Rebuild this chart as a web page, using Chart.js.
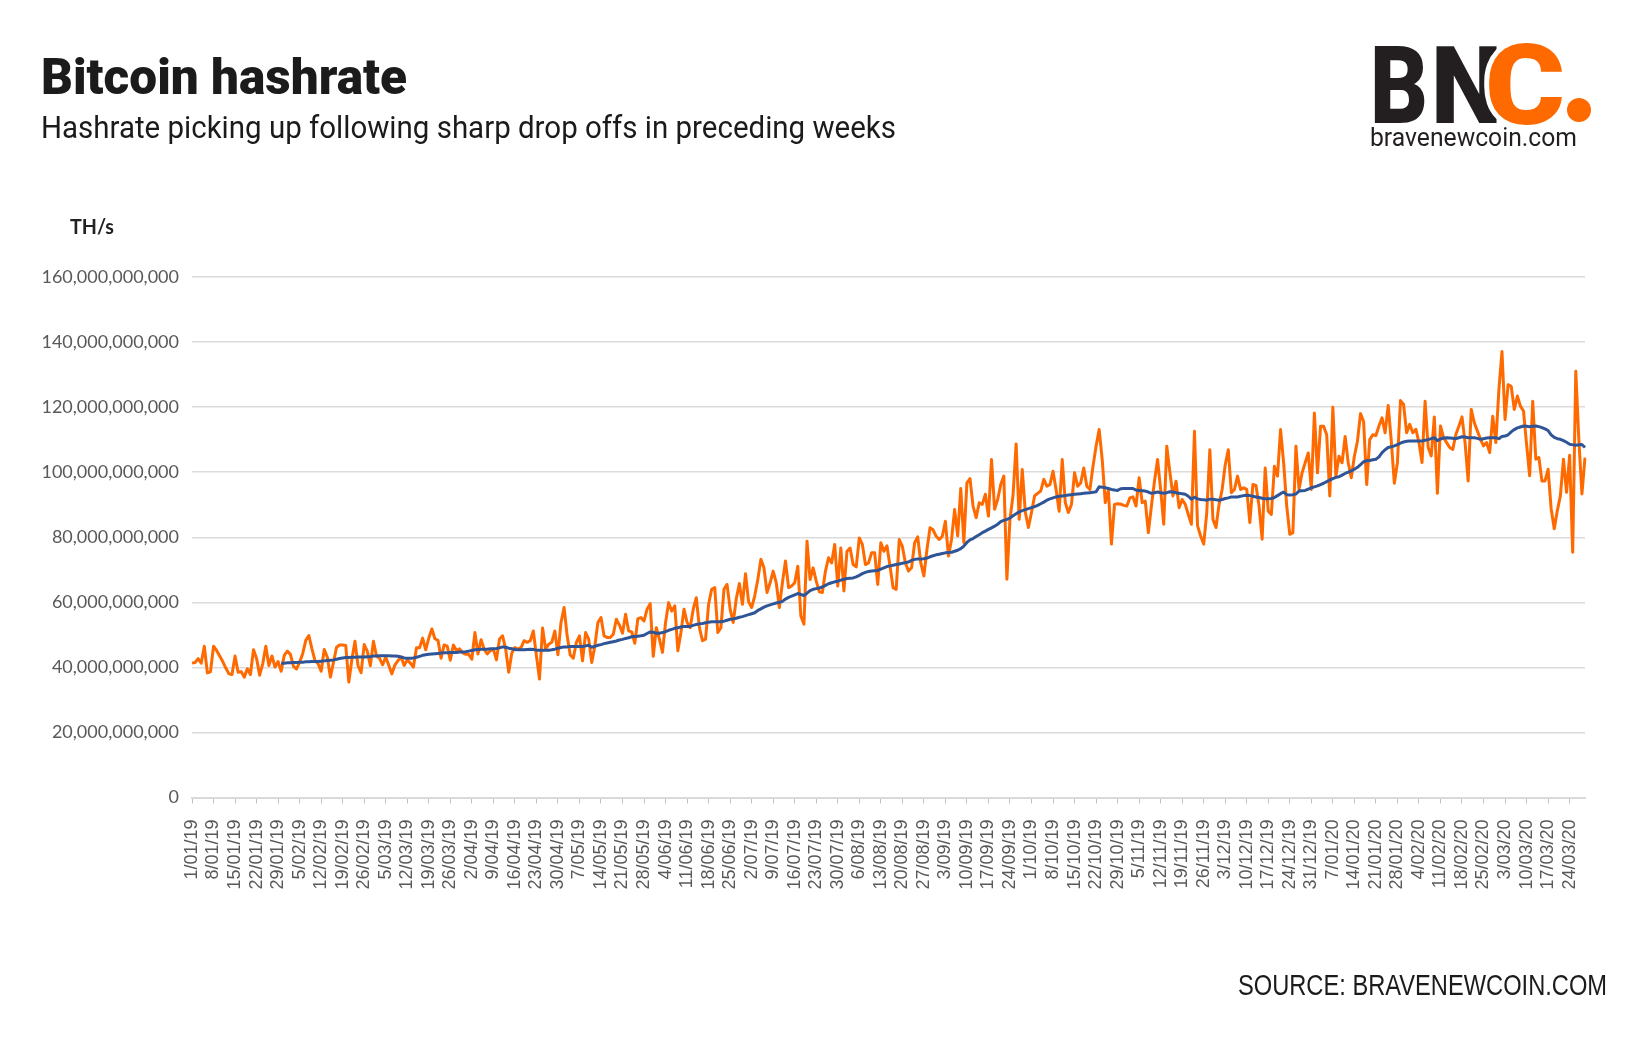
<!DOCTYPE html>
<html>
<head>
<meta charset="utf-8">
<title>Bitcoin hashrate</title>
<script src="https://cdn.jsdelivr.net/npm/chart.js@4.4.1/dist/chart.umd.min.js"></script>
<style>
  html, body { margin: 0; padding: 0; background: #fff; }
  #wrap { position: relative; width: 1630px; height: 1039px; }
</style>
</head>
<body>
<div id="wrap"><canvas id="hashChart" width="1630" height="1039"></canvas></div>
<script>
// daily hashrate, in billions of TH/s, from 1/01/19
var hashrate = [
  41.3, 41.5, 42.7, 41.3, 46.5, 38.3, 38.6, 46.5, 45.2, 43.5,
  41.8, 39.8, 38.0, 37.8, 43.5, 38.5, 38.7, 37.0, 39.6, 37.8,
  45.4, 42.7, 37.6, 41.1, 46.5, 40.6, 43.5, 40.1, 41.8, 38.8,
  43.7, 45.0, 44.0, 40.3, 39.5, 41.6, 44.2, 48.3, 49.8, 45.7,
  42.1, 41.1, 38.8, 45.5, 43.2, 37.0, 41.5, 46.2, 46.9, 46.9,
  46.7, 35.5, 42.5, 48.0, 40.5, 38.4, 47.0, 45.0, 40.5, 48.0,
  43.5, 42.8, 40.8, 43.2, 40.6, 38.0, 40.8, 42.1, 43.2, 40.6,
  42.3, 41.3, 40.1, 46.0, 46.0, 49.0, 45.4, 49.0, 51.8, 48.8,
  48.3, 42.8, 46.9, 46.5, 42.2, 46.9, 45.2, 45.7, 44.5, 44.0,
  44.0, 42.5, 50.7, 44.1, 48.5, 45.6, 44.1, 45.1, 45.6, 42.3,
  48.7, 49.7, 45.6, 38.5, 44.4, 46.1, 45.6, 46.1, 48.2, 47.7,
  48.2, 51.2, 43.6, 36.4, 52.1, 45.6, 47.1, 47.7, 51.2, 43.9,
  53.8, 58.4, 49.7, 43.8, 42.8, 47.7, 49.7, 42.0, 50.7, 48.7,
  41.5, 46.6, 53.8, 55.3, 49.7, 49.2, 49.2, 50.2, 54.8, 53.0,
  50.5, 56.3, 51.2, 50.9, 47.4, 55.0, 55.3, 54.3, 57.9, 59.6,
  43.4, 52.2, 48.7, 44.6, 53.8, 59.9, 57.3, 58.9, 45.1, 50.7,
  57.9, 53.8, 52.2, 57.9, 61.4, 52.2, 48.2, 48.7, 59.4, 64.0,
  64.5, 50.7, 52.2, 64.0, 65.5, 57.9, 53.8, 61.1, 65.8, 59.4,
  68.8, 60.2, 58.4, 62.0, 67.0, 73.2, 70.6, 63.0, 66.0, 69.6,
  66.0, 58.4, 66.0, 72.7, 64.5, 65.0, 66.0, 71.1, 55.8, 53.3,
  78.8, 67.0, 70.6, 66.5, 63.2, 63.0, 69.6, 73.7, 72.1, 77.8,
  65.0, 76.7, 63.5, 75.7, 76.7, 71.6, 70.9, 79.8, 77.8, 71.6,
  72.1, 75.2, 75.2, 65.5, 78.3, 75.7, 77.4, 71.1, 64.5, 64.0,
  79.3, 77.2, 72.1, 69.6, 70.6, 78.3, 80.1, 72.1, 68.1, 76.2,
  82.9, 82.3, 80.3, 79.3, 80.3, 84.9, 74.2, 79.3, 88.5, 80.4,
  95.0, 78.4, 96.7, 98.0, 89.6, 86.0, 90.6, 90.1, 93.2, 86.5,
  103.9, 88.6, 91.6, 96.2, 98.8, 67.1, 85.5, 92.9, 108.7, 85.5,
  100.8, 87.6, 83.0, 87.6, 92.7, 93.5, 94.2, 97.8, 95.7, 96.2,
  100.3, 94.7, 88.0, 103.9, 90.6, 87.6, 90.1, 99.8, 95.7, 96.7,
  101.3, 95.7, 94.7, 101.8, 108.0, 113.1, 103.9, 90.6, 94.5, 77.9,
  90.1, 90.3, 90.2, 89.8, 89.6, 92.1, 92.4, 89.6, 98.3, 90.6,
  91.1, 81.4, 89.6, 97.2, 103.9, 94.7, 84.0, 108.0, 100.0, 92.7,
  97.2, 89.1, 91.6, 90.1, 87.0, 84.0, 112.6, 83.5, 80.4, 77.9,
  87.6, 106.9, 85.5, 83.0, 90.1, 94.7, 102.3, 106.9, 93.7, 94.7,
  98.8, 94.7, 95.2, 94.7, 84.5, 96.2, 95.9, 89.6, 79.4, 101.3,
  88.0, 87.0, 101.8, 98.8, 113.1, 102.9, 89.6, 80.9, 81.4, 108.0,
  94.7, 99.8, 102.9, 105.9, 94.7, 118.2, 99.8, 114.1, 114.1, 111.5,
  92.7, 120.0, 98.8, 104.9, 102.9, 111.0, 102.9, 98.3, 104.9, 109.5,
  118.0, 115.6, 96.2, 110.0, 111.5, 111.3, 114.2, 116.7, 112.1, 120.5,
  109.6, 96.6, 103.0, 122.0, 120.8, 112.1, 114.7, 112.1, 113.2, 109.1,
  103.0, 121.8, 107.6, 105.0, 117.0, 93.5, 114.2, 110.6, 109.1, 107.6,
  107.0, 111.6, 114.2, 117.0, 109.1, 97.3, 119.3, 115.2, 112.7, 110.1,
  108.1, 109.1, 106.0, 117.2, 109.1, 125.4, 137.1, 116.2, 126.9, 126.4,
  119.3, 123.4, 120.3, 118.8, 108.6, 98.9, 121.8, 104.0, 104.5, 97.3,
  97.3, 100.9, 88.7, 82.6, 88.2, 92.8, 104.0, 93.8, 105.2, 75.4,
  131.0, 110.0, 93.3, 104.5
];

// moving average line (blue), same days, starts 30/01/19
var movingAverage = [
  null, null, null, null, null, null, null, null, null, null,
  null, null, null, null, null, null, null, null, null, null,
  null, null, null, null, null, null, null, null, null, 41.3,
  41.3, 41.4, 41.4, 41.5, 41.5, 41.6, 41.6, 41.7, 41.7, 41.8,
  41.8, 41.8, 41.9, 42.0, 42.1, 42.2, 42.3, 42.5, 42.7, 42.9,
  43.0, 43.0, 43.1, 43.1, 43.2, 43.2, 43.2, 43.3, 43.3, 43.5,
  43.5, 43.6, 43.6, 43.6, 43.6, 43.5, 43.5, 43.4, 43.2, 42.9,
  42.8, 42.8, 42.9, 43.1, 43.4, 43.7, 43.9, 44.0, 44.1, 44.2,
  44.3, 44.4, 44.5, 44.5, 44.6, 44.6, 44.6, 44.7, 44.7, 44.8,
  45.0, 45.2, 45.4, 45.5, 45.6, 45.6, 45.6, 45.7, 45.7, 45.8,
  46.0, 46.3, 46.2, 45.9, 45.7, 45.5, 45.4, 45.4, 45.4, 45.5,
  45.6, 45.5, 45.3, 45.3, 45.3, 45.3, 45.3, 45.4, 45.6, 45.9,
  46.1, 46.3, 46.3, 46.4, 46.4, 46.4, 46.4, 46.4, 46.6, 46.8,
  46.2, 46.5, 46.8, 47.0, 47.3, 47.5, 47.7, 47.9, 48.1, 48.4,
  48.6, 48.9, 49.1, 49.4, 49.5, 49.6, 49.7, 49.9, 50.4, 50.9,
  50.8, 50.5, 50.5, 50.7, 51.0, 51.4, 51.7, 52.0, 52.2, 52.4,
  52.6, 52.6, 52.6, 52.9, 53.2, 53.4, 53.5, 53.7, 53.9, 54.0,
  54.0, 54.0, 54.0, 54.2, 54.5, 54.8, 54.9, 55.1, 55.4, 55.6,
  55.9, 56.2, 56.5, 56.8, 57.5, 58.0, 58.5, 58.9, 59.2, 59.5,
  59.8, 60.0, 60.3, 61.0, 61.5, 61.9, 62.3, 62.7, 62.4, 62.1,
  62.8, 63.6, 64.0, 64.2, 64.4, 64.7, 65.2, 65.7, 66.0, 66.3,
  66.5, 66.8, 67.1, 67.3, 67.4, 67.5, 67.8, 68.3, 68.8, 69.2,
  69.5, 69.6, 69.7, 69.8, 70.2, 70.6, 71.0, 71.2, 71.4, 71.6,
  71.8, 72.0, 72.2, 72.4, 72.9, 73.2, 73.3, 73.3, 73.4, 73.6,
  74.0, 74.3, 74.6, 74.8, 75.0, 75.2, 75.3, 75.4, 75.7, 76.0,
  76.5, 77.3, 78.4, 79.2, 79.6, 80.2, 80.8, 81.4, 81.9, 82.4,
  82.9, 83.4, 84.0, 84.8, 85.2, 85.5, 85.9, 86.6, 87.2, 87.8,
  88.2, 88.5, 88.8, 89.1, 89.4, 89.8, 90.3, 90.8, 91.4, 91.8,
  92.1, 92.4, 92.6, 92.7, 92.8, 93.0, 93.1, 93.2, 93.3, 93.4,
  93.5, 93.6, 93.7, 93.8, 94.0, 95.5, 95.4, 95.2, 95.0, 94.7,
  94.5, 94.4, 94.9, 95.0, 95.0, 95.0, 95.0, 94.5, 94.4, 94.3,
  94.2, 93.9, 93.5, 93.7, 93.9, 93.7, 93.5, 93.7, 94.0, 93.9,
  93.7, 93.5, 93.4, 93.2, 92.6, 91.7, 92.3, 91.8, 91.6, 91.5,
  91.4, 91.7, 91.7, 91.5, 91.4, 91.6, 91.9, 92.1, 92.4, 92.4,
  92.4, 92.6, 92.8, 92.9, 92.8, 92.6, 92.4, 92.2, 92.0, 91.8,
  91.8, 91.9, 92.2, 92.8, 93.4, 93.9, 93.1, 93.0, 93.1, 93.3,
  94.2, 94.3, 94.4, 94.8, 95.2, 95.5, 95.8, 96.2, 96.6, 97.1,
  97.6, 98.0, 98.4, 98.6, 99.1, 99.6, 100.0, 100.4, 100.9, 101.5,
  102.3, 103.2, 103.5, 103.6, 103.8, 104.0, 104.7, 106.0, 106.9, 107.6,
  107.8, 108.1, 108.5, 108.9, 109.3, 109.5, 109.6, 109.6, 109.6, 109.6,
  109.6, 109.8, 110.0, 110.3, 110.6, 109.7, 110.2, 110.5, 110.6, 110.5,
  110.4, 110.3, 110.6, 110.9, 110.8, 110.6, 110.6, 110.6, 110.4, 110.1,
  110.3, 110.5, 110.6, 110.6, 110.6, 110.3, 111.0, 111.1, 111.5, 112.4,
  113.1, 113.6, 113.9, 114.2, 114.1, 114.0, 114.1, 114.2, 114.0, 113.7,
  113.3, 112.8, 111.5, 110.7, 110.3, 110.1, 109.7, 109.2, 108.6, 108.4,
  108.3, 108.4, 108.5, 107.6
];

var yTicks = [0, 20, 40, 60, 80, 100, 120, 140, 160];   // billions
var labelEvery = 7;   // one date label per week

function dayLabel(d) {
    var mm = d.getMonth() + 1;
    return d.getDate() + '/' + (mm < 10 ? '0' + mm : mm) + '/' + (d.getFullYear() % 100);
}

var days = [];
for (var i = 0; i < hashrate.length; i++) {
    days.push(dayLabel(new Date(2019, 0, 1 + i)));
}

// draws text squeezed/stretched to a given width
function fitText(ctx, text, x, y, width) {
    var w = ctx.measureText(text).width;
    ctx.save();
    ctx.translate(x, y);
    ctx.scale(width / w, 1);
    ctx.fillText(text, 0, 0);
    ctx.restore();
}

var pageText = {
    id: 'pageText',
    afterDraw: function (chart) {
        var ctx = chart.ctx;
        ctx.save();
        ctx.textAlign = 'left';
        ctx.textBaseline = 'alphabetic';

        ctx.fillStyle = '#1b1b1b';
        ctx.font = '900 50px Roboto';
        fitText(ctx, 'Bitcoin hashrate', 41, 94, 366);

        ctx.font = '400 31px Roboto';
        fitText(ctx, 'Hashrate picking up following sharp drop offs in preceding weeks', 41, 138, 855);

        ctx.font = 'bold 20px Lato';
        ctx.fillStyle = '#222';
        fitText(ctx, 'TH/s', 70, 234, 44);

        // logo
        ctx.fillStyle = '#231f20';
        ctx.font = '900 108px Roboto';
        fitText(ctx, 'B', 1370, 123, 58);
        fitText(ctx, 'N', 1431, 123, 71);
        ctx.save();
        ctx.font = '900 112px Roboto';
        var cw = ctx.measureText('C').width;
        ctx.translate(1485, 124);
        ctx.scale(80 / cw, 1);
        ctx.strokeStyle = '#fff';
        ctx.lineWidth = 9;
        ctx.lineJoin = 'round';
        ctx.strokeText('C', 0, 0);
        ctx.fillStyle = '#ff6a00';
        ctx.fillText('C', 0, 0);
        ctx.restore();
        ctx.fillStyle = '#ff6a00';
        ctx.beginPath();
        ctx.arc(1579, 110, 12, 0, Math.PI * 2);
        ctx.fill();

        ctx.fillStyle = '#231f20';
        ctx.font = '400 25px Roboto';
        fitText(ctx, 'bravenewcoin.com', 1370, 146, 207);

        ctx.fillStyle = '#1b1b1b';
        ctx.font = '29px "Liberation Sans", Arial, sans-serif';
        fitText(ctx, 'SOURCE: BRAVENEWCOIN.COM', 1238, 995, 369);
        ctx.restore();
    }
};

var chart = new Chart(document.getElementById('hashChart'), {
    type: 'line',
    data: {
        labels: days,
        datasets: [{
            label: 'Moving average',
            data: movingAverage,
            borderColor: '#2f5597',
            borderWidth: 3,
            order: 0
        }, {
            label: 'Hashrate',
            data: hashrate,
            borderColor: '#ff6a00',
            borderWidth: 3,
            order: 1
        }]
    },
    options: {
        responsive: false,
        animation: false,
        events: [],
        layout: { padding: { top: 277, right: 45, left: 0, bottom: 0 } },
        plugins: {
            legend: { display: false },
            tooltip: { enabled: false }
        },
        elements: {
            point: { radius: 0 },
            line: { tension: 0, borderJoinStyle: 'round', fill: false }
        },
        scales: {
            x: {
                offset: false,
                grid: { drawOnChartArea: false, drawTicks: true, tickLength: 6, color: '#bfbfbf', lineWidth: 1 },
                border: { display: true, color: '#d9d9d9', width: 2 },
                ticks: {
                    autoSkip: false,
                    minRotation: 90,
                    maxRotation: 90,
                    padding: 16,
                    color: '#595959',
                    font: { family: '"Liberation Sans", Arial, sans-serif', size: 18 },
                    callback: function (value, index) {
                        return index % labelEvery === 0 ? days[index] : null;
                    }
                },
                afterFit: function (scale) { scale.height = 241.5; }
            },
            y: {
                min: 0,
                max: 160,
                afterBuildTicks: function (scale) {
                    scale.ticks = yTicks.map(function (v) { return { value: v }; });
                },
                grid: { color: '#dcdcdc', lineWidth: 1.5, drawTicks: false },
                border: { display: false },
                ticks: {
                    padding: 13,
                    color: '#595959',
                    font: { family: 'Lato', size: 18 },
                    callback: function (v) { return (v * 1e9).toLocaleString('en-US'); }
                },
                afterFit: function (scale) { scale.width = 192; }
            }
        }
    },
    plugins: [pageText]
});
</script>
</body>
</html>
